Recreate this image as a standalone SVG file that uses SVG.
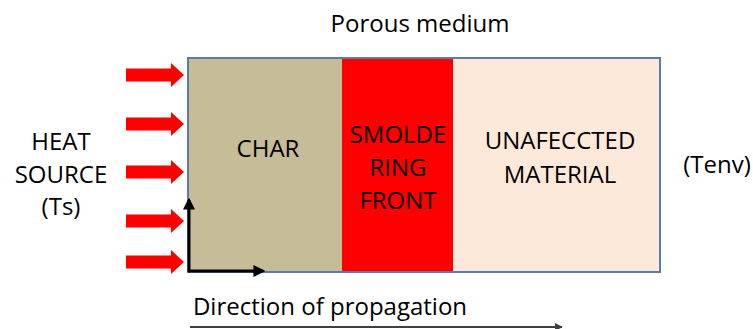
<svg xmlns="http://www.w3.org/2000/svg" width="753" height="329" viewBox="0 0 753 329">
  <style>
    .t { font-family: "Open Sans", "Liberation Sans", sans-serif; font-size: 24px; fill: #000; text-anchor: middle; }
    .heat { fill: #FF0000; }
  </style>
  <defs>
    <path id="harrow" d="M126,-6.5 H171 V-12 L184,0 L171,12 V6.5 H126 Z"/>
    <marker id="blk" viewBox="0 0 10 10" refX="8" refY="5" markerWidth="4" markerHeight="4" orient="auto" markerUnits="strokeWidth">
      <path d="M0,0 L10,5 L0,10 Z" fill="#000"/>
    </marker>
    <marker id="gry" viewBox="0 0 10 10" refX="9" refY="5" markerWidth="4" markerHeight="4" orient="auto" markerUnits="strokeWidth">
      <path d="M0,0 L10,5 L0,10 Z" fill="#404040"/>
    </marker>
  </defs>
  <rect width="753" height="329" fill="#fff"/>

  <text class="t" x="420" y="32">Porous medium</text>

  <g id="medium">
    <rect x="188" y="58" width="154" height="214" fill="#C4BD97"/>
    <rect x="342" y="58" width="111" height="214" fill="#FF0000"/>
    <rect x="453" y="58" width="207" height="214" fill="#FDE9D9"/>
    <rect x="188" y="58" width="472" height="214" fill="none" stroke="#5B7BA8" stroke-width="2"/>
  </g>

  <g id="char">
    <text class="t" x="268" y="157">CHAR</text>
  </g>
  <g id="front">
    <text class="t" x="398" y="143">SMOLDE</text>
    <text class="t" x="398" y="176">RING</text>
    <text class="t" x="398" y="209">FRONT</text>
  </g>
  <g id="unaffected">
    <text class="t" x="560" y="149">UNAFECCTED</text>
    <text class="t" x="560" y="183">MATERIAL</text>
  </g>

  <g id="heat-source">
    <text class="t" x="61" y="150">HEAT</text>
    <text class="t" x="61" y="183">SOURCE</text>
    <text class="t" x="61" y="215">(Ts)</text>
  </g>

  <g id="env">
    <text class="t" x="717" y="173">(Tenv)</text>
  </g>

  <g id="connectors">
    <use href="#harrow" class="heat" transform="translate(0,75)"/>
    <use href="#harrow" class="heat" transform="translate(0,124)"/>
    <use href="#harrow" class="heat" transform="translate(0,172)"/>
    <use href="#harrow" class="heat" transform="translate(0,221)"/>
    <use href="#harrow" class="heat" transform="translate(0,262)"/>
    <path d="M189,272 V200" stroke="#000" stroke-width="3" fill="none" marker-end="url(#blk)"/>
    <path d="M188,271 H263" stroke="#000" stroke-width="3" fill="none" marker-end="url(#blk)"/>
    <path d="M190,327 H562" stroke="#404040" stroke-width="2" fill="none" marker-end="url(#gry)"/>
  </g>

  <text class="t" x="330" y="315">Direction of propagation</text>
</svg>
